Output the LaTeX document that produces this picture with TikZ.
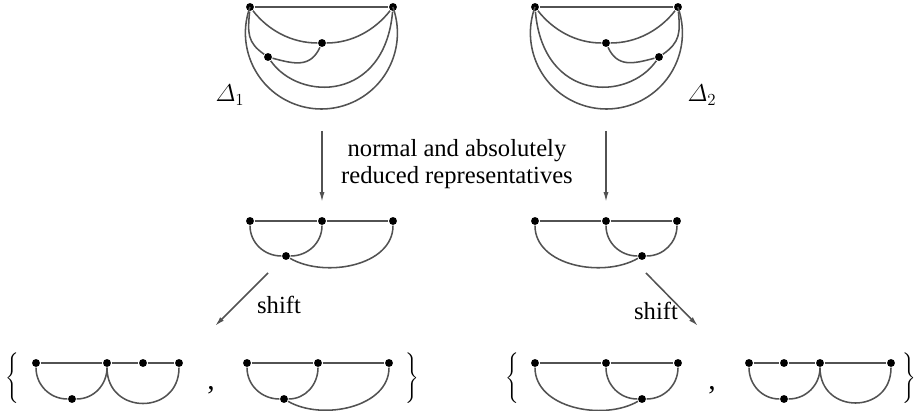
\documentclass[tikz,border=0pt]{standalone}
\usepackage{amsmath}
\usepackage{fontspec}
\setmainfont{Liberation Serif}
\usetikzlibrary{
    arrows.meta
}

\begin{document}
\begin{tikzpicture}[
    x=0.025cm, y=0.025cm,
    line width=1.1pt,
    vertex/.style={circle,fill=black,minimum size=5.6pt,inner sep=0pt},
    edge/.style={draw=black!68},
    map/.style={draw=black!68,-{Latex[length=7pt,width=3.6pt]}},
    label text/.style={font=\fontsize{17.5}{19.3}\selectfont},
    delta label/.style={font=\fontsize{17}{19}\selectfont},
    brace/.style={font=\fontsize{11.6}{12}\selectfont,inner sep=0pt}
]
    \useasboundingbox (0,0) rectangle (917,411);

    % Delta_1 and Delta_2 (mirror images)
    \node[vertex] (l1) at (250,404) {};
    \node[vertex] (r1) at (393,404) {};
    \node[vertex] (a1) at (322,368) {};
    \node[vertex] (b1) at (268,354) {};
    \node[delta label] (d1) at (230,316) {$\varDelta_1$};

    \draw[edge] (l1) -- (r1);
    \draw[edge] (l1) to[out=-52,in=180,looseness=0.9] (a1)
        to[out=0,in=-128,looseness=0.9] (r1);
    \draw[edge] (l1) to[out=-95,in=145,looseness=1.2] (b1);
    \draw[edge] (b1) to[out=-15,in=-115,looseness=1.2] (a1);
    \draw[edge] (b1) .. controls +(-55:55) and +(-95:95) .. (r1);
    \draw[edge] (l1.center) arc[start angle=160,end angle=380,radius=76];

    \node[vertex] (l2) at (535,404) {};
    \node[vertex] (r2) at (678,404) {};
    \node[vertex] (a2) at (606,368) {};
    \node[vertex] (b2) at (659,354) {};
    \node[delta label] (d2) at (702,316) {$\varDelta_2$};

    \draw[edge] (l2) -- (r2);
    \draw[edge] (l2) to[out=-52,in=180,looseness=0.9] (a2)
        to[out=0,in=-128,looseness=0.9] (r2);
    \draw[edge] (a2) to[out=-65,in=195,looseness=1.2] (b2);
    \draw[edge] (b2) to[out=35,in=-85,looseness=1.2] (r2);
    \draw[edge] (l2) .. controls +(-85:95) and +(-125:55) .. (b2);
    \draw[edge] (l2.center) arc[start angle=160,end angle=380,radius=76];

    % normal and absolutely reduced representatives
    \coordinate (m1top) at (322,280);
    \coordinate (m1bot) at (322,209);
    \coordinate (m2top) at (606,280);
    \coordinate (m2bot) at (606,209);
    \draw[map] (m1top) -- (m1bot);
    \draw[map] (m2top) -- (m2bot);
    \node[label text,align=center] (reduce) at (457,247)
        {normal and absolutely\\reduced representatives};

    \node[vertex] (p1) at (250,190) {};
    \node[vertex] (p2) at (322,190) {};
    \node[vertex] (p3) at (393,190) {};
    \node[vertex] (q)  at (286,155) {};
    \draw[edge] (p1) -- (p2) -- (p3);
    \draw[edge] (p1) to[out=-90,in=180] (q) to[out=0,in=-90] (p2);
    \draw[edge] (q) to[out=-30,in=-90,looseness=0.95] (p3);

    \node[vertex] (s1) at (535,190) {};
    \node[vertex] (s2) at (606,190) {};
    \node[vertex] (s3) at (677,190) {};
    \node[vertex] (t)  at (642,155) {};
    \draw[edge] (s1) -- (s2) -- (s3);
    \draw[edge] (s2) to[out=-90,in=180] (t) to[out=0,in=-90] (s3);
    \draw[edge] (s1) to[out=-90,in=210,looseness=0.95] (t);

    % shift
    \coordinate (sh1a) at (268,138);
    \coordinate (sh1b) at (215,85);
    \coordinate (sh2a) at (646,138);
    \coordinate (sh2b) at (698,85);
    \draw[map] (sh1a) -- (sh1b);
    \draw[map] (sh2a) -- (sh2b);
    \node[label text] (shl) at (279,106) {shift};
    \node[label text] (shr) at (656,100) {shift};

    % left set
    \node[brace] (lb1) at (12,33) {$\Bigg\{$};
    \node[vertex] (u1) at (36,48) {};
    \node[vertex] (u2) at (107,48) {};
    \node[vertex] (u3) at (143,48) {};
    \node[vertex] (u4) at (179,48) {};
    \node[vertex] (v)  at (72,12) {};
    \draw[edge] (u1) -- (u2) -- (u3) -- (u4);
    \draw[edge] (u1) to[out=-90,in=180] (v) to[out=0,in=-90] (u2);
    \draw[edge] (u2) to[out=-90,in=-90,looseness=1.7] (u4);

    \node[label text,font=\fontsize{21}{21}\selectfont,anchor=base] (c1) at (211,21) {,};

    \node[vertex] (w1) at (247,48) {};
    \node[vertex] (w2) at (318,48) {};
    \node[vertex] (w3) at (389,48) {};
    \node[vertex] (x)  at (284,12) {};
    \draw[edge] (w1) -- (w2) -- (w3);
    \draw[edge] (w1) to[out=-90,in=180] (x) to[out=0,in=-90] (w2);
    \draw[edge] (x) to[out=-30,in=-90,looseness=0.95] (w3);
    \node[brace] (rb1) at (412,33) {$\Bigg\}$};

    % right set
    \node[brace] (lb2) at (512,33) {$\Bigg\{$};
    \node[vertex] (y1) at (535,48) {};
    \node[vertex] (y2) at (606,48) {};
    \node[vertex] (y3) at (678,48) {};
    \node[vertex] (z)  at (642,12) {};
    \draw[edge] (y1) -- (y2) -- (y3);
    \draw[edge] (y2) to[out=-90,in=180] (z) to[out=0,in=-90] (y3);
    \draw[edge] (y1) to[out=-90,in=210,looseness=0.95] (z);

    \node[label text,font=\fontsize{21}{21}\selectfont,anchor=base] (c2) at (712,21) {,};

    \node[vertex] (k1) at (749,48) {};
    \node[vertex] (k2) at (784,48) {};
    \node[vertex] (k3) at (820,48) {};
    \node[vertex] (k4) at (891,48) {};
    \node[vertex] (j)  at (784,12) {};
    \draw[edge] (k1) -- (k2) -- (k3) -- (k4);
    \draw[edge] (k1) to[out=-90,in=180] (j) to[out=0,in=-90] (k3);
    \draw[edge] (k3) to[out=-90,in=-90,looseness=1.7] (k4);
    \node[brace] (rb2) at (909,33) {$\Bigg\}$};
\end{tikzpicture}
\end{document}
